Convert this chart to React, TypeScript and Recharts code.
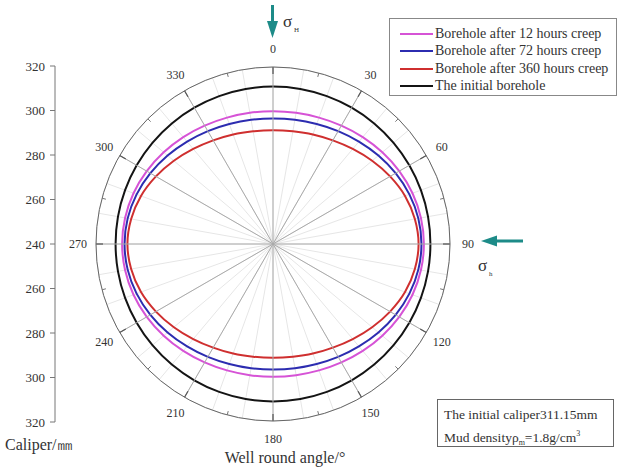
import {
  RadarChart,
  Radar,
  PolarGrid,
  PolarAngleAxis,
  PolarRadiusAxis,
  LineChart,
  Line,
  XAxis,
  YAxis,
} from "recharts";

// well round angle, degrees (clockwise from top)
const angles = [
  0, 10, 20, 30, 40, 50, 60, 70, 80, 90, 100, 110, 120, 130, 140, 150, 160, 170,
  180, 190, 200, 210, 220, 230, 240, 250, 260, 270, 280, 290, 300, 310, 320, 330, 340, 350,
];

// caliper, mm
const creep12h = [
  300.0, 300.2, 300.8, 301.8, 303.1, 304.5, 305.9, 307.1, 307.9, 308.2, 307.9, 307.1,
  305.9, 304.5, 303.1, 301.8, 300.8, 300.2, 300.0, 300.2, 300.8, 301.8, 303.1, 304.5,
  305.9, 307.1, 307.9, 308.2, 307.9, 307.1, 305.9, 304.5, 303.1, 301.8, 300.8, 300.2,
];
const creep72h = [
  296.7, 297.0, 297.7, 298.9, 300.4, 302.2, 304.0, 305.6, 306.7, 307.1, 306.7, 305.6,
  304.0, 302.2, 300.4, 298.9, 297.7, 297.0, 296.7, 297.0, 297.7, 298.9, 300.4, 302.2,
  304.0, 305.6, 306.7, 307.1, 306.7, 305.6, 304.0, 302.2, 300.4, 298.9, 297.7, 297.0,
];
const creep360h = [
  291.4, 291.7, 292.7, 294.1, 296.1, 298.5, 301.1, 303.5, 305.1, 305.8, 305.1, 303.5,
  301.1, 298.5, 296.1, 294.1, 292.7, 291.7, 291.4, 291.7, 292.7, 294.1, 296.1, 298.5,
  301.1, 303.5, 305.1, 305.8, 305.1, 303.5, 301.1, 298.5, 296.1, 294.1, 292.7, 291.7,
];
const initialCaliper = 311.15;

const seriesNames = [
  "Borehole after 12 hours creep",
  "Borehole after 72 hours creep",
  "Borehole after 360 hours creep",
  "The initial borehole",
];

// left caliper scale: 320 ... 240 (centre) ... 320
const caliperTicks = [80, 60, 40, 20, 0, -20, -40, -60, -80];
const caliperCentre = 240;
const caliperSpan = [{ v: -80 }, { v: 80 }];

const data = angles.map((a, i) => ({
  angle: a,
  h12: creep12h[i],
  h72: creep72h[i],
  h360: creep360h[i],
  initial: initialCaliper,
}));

const keys = ["h12", "h72", "h360", "initial"];
const colors = ["#d653d6", "#2c2cb0", "#cf2f2f", "#141414"];

const FONT = '"Liberation Serif", "Times New Roman", serif';
const CX = 273;
const CY = 244;
const R = 177;
const TEAL = "#1d8b88";
const RAD = Math.PI / 180;

const polar = (r: number, deg: number) => ({
  x: CX + Math.cos(-deg * RAD) * r,
  y: CY + Math.sin(-deg * RAD) * r,
});

// closed smooth curve through the radar points
const smoothClosed = (pts: { x: number; y: number }[]) => {
  const n = pts.length;
  if (!n) return "";
  let d = `M${pts[0].x},${pts[0].y}`;
  for (let i = 0; i < n; i++) {
    const p0 = pts[(i - 1 + n) % n];
    const p1 = pts[i];
    const p2 = pts[(i + 1) % n];
    const p3 = pts[(i + 2) % n];
    const c1x = p1.x + (p2.x - p0.x) / 6;
    const c1y = p1.y + (p2.y - p0.y) / 6;
    const c2x = p2.x - (p3.x - p1.x) / 6;
    const c2y = p2.y - (p3.y - p1.y) / 6;
    d += `C${c1x},${c1y} ${c2x},${c2y} ${p2.x},${p2.y}`;
  }
  return d + "Z";
};

const SmoothShape = (props: any) => (
  <path d={smoothClosed(props.points || [])} fill="none" stroke={props.stroke} strokeWidth={2} />
);

const AngleTick = (props: any) => {
  const { payload } = props;
  const deg = payload.coordinate;
  const value = Number(payload.value);
  if (value % 30 !== 0) return <g />;
  const o = polar(R, deg);
  const i1 = polar(R - 7, deg);
  const m0 = polar(R, deg - 15);
  const m1 = polar(R - 4, deg - 15);
  const lab = polar(R + 18, deg);
  return (
    <g>
      <line x1={CX} y1={CY} x2={o.x} y2={o.y} stroke="#aaaaaa" strokeWidth={1} />
      <line x1={o.x} y1={o.y} x2={i1.x} y2={i1.y} stroke="#555" strokeWidth={1.2} />
      <line x1={m0.x} y1={m0.y} x2={m1.x} y2={m1.y} stroke="#777" strokeWidth={1} />
      <text
        x={lab.x}
        y={lab.y}
        textAnchor="middle"
        dominantBaseline="central"
        fontFamily={FONT}
        fontSize={12}
        fill="#333"
      >
        {value}
      </text>
    </g>
  );
};

const App = () => {
  return (
    <div
      style={{
        position: "absolute",
        left: 0,
        top: 0,
        width: 619,
        height: 473,
        background: "#fff",
        fontFamily: FONT,
        overflow: "hidden",
      }}
    >
      <div style={{ position: "absolute", left: 0, top: 0 }}>
        <LineChart width={60} height={473} data={caliperSpan} margin={{ top: 66, bottom: 51, left: 0, right: 0 }}>
          <XAxis hide />
          <YAxis
            type="number"
            dataKey="v"
            domain={[-80, 80]}
            ticks={caliperTicks}
            interval={0}
            width={55}
            tickSize={5}
            tickMargin={5}
            stroke="#777"
            tick={{ fill: "#333", fontSize: 13, fontFamily: FONT }}
            tickFormatter={(v: number) => String(caliperCentre + Math.abs(v))}
          />
          <Line dataKey="v" stroke="none" dot={false} isAnimationActive={false} />
        </LineChart>
      </div>

      <div style={{ position: "absolute", left: 0, top: 0 }}>
        <RadarChart
          width={619}
          height={473}
          data={data}
          cx={CX}
          cy={CY}
          outerRadius={R}
          startAngle={90}
          endAngle={-270}
          margin={{ top: 0, left: 0, right: 0, bottom: 0 }}
        >
          <PolarGrid gridType="circle" polarRadius={[R]} stroke="#e6e6e6" />
          <PolarAngleAxis
            dataKey="angle"
            tick={AngleTick}
            tickLine={false}
            axisLine={{ stroke: "#666", strokeWidth: 1 }}
            axisLineType="circle"
          />
          <PolarRadiusAxis domain={[240, 320]} tick={false} axisLine={false} />
          {keys.map((k, i) => (
            <Radar
              key={k}
              name={seriesNames[i]}
              dataKey={k}
              stroke={colors[i]}
              strokeWidth={2}
              fill="none"
              fillOpacity={0}
              dot={false}
              shape={SmoothShape}
              isAnimationActive={false}
            />
          ))}
        </RadarChart>
      </div>

      {/* legend */}
      <div
        style={{
          position: "absolute",
          left: 389,
          top: 18,
          width: 228,
          height: 78,
          border: "1px solid #888",
          boxSizing: "border-box",
          paddingTop: 6,
          paddingLeft: 10,
        }}
      >
        {seriesNames.map((n, i) => (
          <div key={n} style={{ display: "flex", alignItems: "center", height: 17.5 }}>
            <div style={{ width: 33, height: 2, background: colors[i], marginRight: 2 }} />
            <span style={{ fontSize: 14, color: "#333", whiteSpace: "nowrap", fontFamily: FONT }}>{n}</span>
          </div>
        ))}
      </div>

      {/* note box */}
      <div
        style={{
          position: "absolute",
          left: 437,
          top: 399,
          width: 177,
          height: 48,
          border: "1px solid #666",
          boxSizing: "border-box",
          paddingLeft: 6,
          paddingTop: 5,
          fontSize: 13.5,
          color: "#333",
          lineHeight: "19px",
          whiteSpace: "nowrap",
          fontFamily: FONT,
        }}
      >
        <div>The initial caliper311.15mm</div>
        <div>
          Mud densityρ<sub style={{ fontSize: 8 }}>m</sub>=1.8g/cm<sup style={{ fontSize: 8 }}>3</sup>
        </div>
      </div>

      <svg width={619} height={473} style={{ position: "absolute", left: 0, top: 0, pointerEvents: "none" }}>
        {/* sigma H arrow */}
        <rect x={271} y={5} width={3} height={18} fill={TEAL} />
        <polygon points="267,21 278,21 272.5,38" fill={TEAL} />
        <text x={283} y={27} fontFamily={FONT} fontSize={17} fill="#333">
          σ
        </text>
        <text x={294} y={32} fontFamily={FONT} fontSize={7} fill="#333">
          H
        </text>
        {/* sigma h arrow */}
        <rect x={495} y={239.5} width={28} height={3} fill={TEAL} />
        <polygon points="497,235.5 497,246.5 481,241" fill={TEAL} />
        <text x={478} y={271} fontFamily={FONT} fontSize={17} fill="#333">
          σ
        </text>
        <text x={489} y={276} fontFamily={FONT} fontSize={7} fill="#333">
          h
        </text>
        {/* axis titles */}
        <text x={5} y={450} fontFamily={FONT} fontSize={16} fill="#333">
          Caliper/㎜
        </text>
        <text x={285} y={463} textAnchor="middle" fontFamily={FONT} fontSize={16} fill="#333">
          Well round angle/°
        </text>
      </svg>
    </div>
  );
};

export default App;
